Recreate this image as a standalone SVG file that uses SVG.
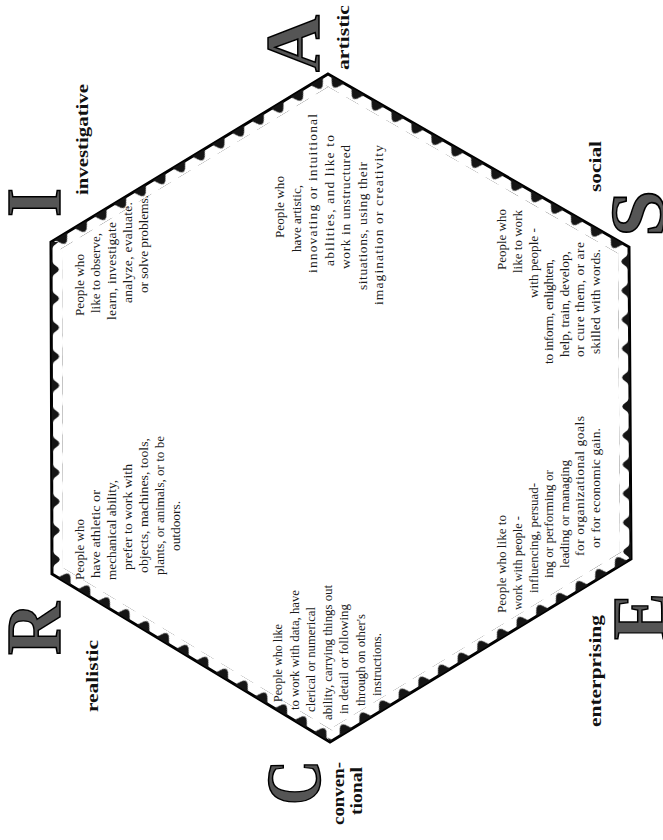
<svg xmlns="http://www.w3.org/2000/svg" width="663" height="840" viewBox="0 0 663 840">
<style>
.body{font-family:"Liberation Serif",serif;font-size:13.5px;fill:#1a1a1a}
.lbl{font-family:"Liberation Serif",serif;font-weight:bold;font-size:17px;fill:#111}
.big{font-family:"Liberation Serif",serif;font-weight:bold;font-size:78px;fill:#555;stroke:#000;stroke-width:1.5;text-anchor:middle}
.edge{stroke:#000;stroke-width:3;fill:none;stroke-linejoin:miter}
</style>
<defs>
<pattern id="tooth" width="23" height="11" patternUnits="userSpaceOnUse">
<path d="M4,0 L8.5,7 Q11.5,10.5 14.5,7 L19,0 Z" fill="#151515"/>
</pattern>
<pattern id="wave" width="29" height="11" patternUnits="userSpaceOnUse">
<path d="M1,0 Q8,0 11,5 Q14.5,10.5 18,5 Q21,0 28,0 Z" fill="#151515"/>
</pattern>
</defs>
<rect width="663" height="840" fill="#fff"/>

<g id="hexagon">
<polygon class="edge" points="328,74 629,247 631,559 330,742 52,574 51,242"/>
<g transform="translate(328,74) rotate(29.89)"><rect x="0" y="0" width="347" height="11" fill="url(#tooth)"/></g>
<g transform="translate(629,247) rotate(89.63)"><rect x="0" y="0" width="312" height="11" fill="url(#wave)"/></g>
<g transform="translate(631,559) rotate(148.7)"><rect x="0" y="0" width="352" height="11" fill="url(#tooth)"/></g>
<g transform="translate(330,742) rotate(211.15)"><rect x="0" y="0" width="325" height="11" fill="url(#tooth)"/></g>
<g transform="translate(52,574) rotate(269.83)"><rect x="0" y="0" width="332" height="11" fill="url(#wave)"/></g>
<g transform="translate(51,242) rotate(-31.23)"><rect x="0" y="0" width="324" height="11" fill="url(#tooth)"/></g>
</g>

<g id="node-I">
<text class="big" transform="translate(60,202.5) rotate(-90)" textLength="29" lengthAdjust="spacingAndGlyphs">I</text>
<text class="lbl" transform="translate(88,195) rotate(-90)" textLength="111" lengthAdjust="spacingAndGlyphs">investigative</text>
<text class="body" transform="translate(84,316) rotate(-90)" textLength="62" lengthAdjust="spacingAndGlyphs">People who</text>
<text class="body" transform="translate(100,313) rotate(-90)" textLength="80" lengthAdjust="spacingAndGlyphs">like to observe,</text>
<text class="body" transform="translate(116,320) rotate(-90)" textLength="98" lengthAdjust="spacing">learn, investigate</text>
<text class="body" transform="translate(132,303) rotate(-90)" textLength="101" lengthAdjust="spacing">analyze, evaluate.</text>
<text class="body" transform="translate(148,293) rotate(-90)" textLength="98" lengthAdjust="spacing">or solve problems.</text>
</g>

<g id="node-A">
<text class="big" transform="translate(319,43.5) rotate(-90)" textLength="57" lengthAdjust="spacingAndGlyphs">A</text>
<text class="lbl" transform="translate(349,70) rotate(-90)" textLength="65" lengthAdjust="spacingAndGlyphs">artistic</text>
<text class="body" transform="translate(284,238) rotate(-90)" textLength="62" lengthAdjust="spacingAndGlyphs">People who</text>
<text class="body" transform="translate(300.5,252) rotate(-90)" textLength="67" lengthAdjust="spacingAndGlyphs">have artistic,</text>
<text class="body" transform="translate(317,273) rotate(-90)" textLength="159" lengthAdjust="spacing">innovating or intuitional</text>
<text class="body" transform="translate(333.5,266) rotate(-90)" textLength="131" lengthAdjust="spacing">abilities, and like to</text>
<text class="body" transform="translate(350,269) rotate(-90)" textLength="124" lengthAdjust="spacing">work in unstructured</text>
<text class="body" transform="translate(366.5,290) rotate(-90)" textLength="128" lengthAdjust="spacing">situations, using their</text>
<text class="body" transform="translate(383,305) rotate(-90)" textLength="160" lengthAdjust="spacing">imagination or creativity</text>
</g>

<g id="node-S">
<text class="big" transform="translate(664,213.5) rotate(-90)" textLength="47" lengthAdjust="spacingAndGlyphs">S</text>
<text class="lbl" transform="translate(601,192) rotate(-90)" textLength="51" lengthAdjust="spacingAndGlyphs">social</text>
<text class="body" transform="translate(506,270) rotate(-90)" textLength="61" lengthAdjust="spacingAndGlyphs">People who</text>
<text class="body" transform="translate(522,273) rotate(-90)" textLength="63" lengthAdjust="spacingAndGlyphs">like to work</text>
<text class="body" transform="translate(537.5,298) rotate(-90)" textLength="70" lengthAdjust="spacingAndGlyphs">with people -</text>
<text class="body" transform="translate(553,364) rotate(-90)" textLength="105" lengthAdjust="spacing">to inform, enlighten,</text>
<text class="body" transform="translate(568.5,357) rotate(-90)" textLength="106" lengthAdjust="spacing">help, train, develop,</text>
<text class="body" transform="translate(584,357) rotate(-90)" textLength="115" lengthAdjust="spacing">or cure them, or are</text>
<text class="body" transform="translate(599.5,354) rotate(-90)" textLength="105" lengthAdjust="spacing">skilled with words.</text>
</g>

<g id="node-R">
<text class="big" transform="translate(60,628.5) rotate(-90)" textLength="53" lengthAdjust="spacingAndGlyphs">R</text>
<text class="lbl" transform="translate(98,712) rotate(-90)" textLength="72" lengthAdjust="spacingAndGlyphs">realistic</text>
<text class="body" transform="translate(84,580) rotate(-90)" textLength="61" lengthAdjust="spacingAndGlyphs">People who</text>
<text class="body" transform="translate(100,578) rotate(-90)" textLength="88" lengthAdjust="spacingAndGlyphs">have athletic or</text>
<text class="body" transform="translate(116,580) rotate(-90)" textLength="100" lengthAdjust="spacingAndGlyphs">mechanical ability,</text>
<text class="body" transform="translate(132,570) rotate(-90)" textLength="106" lengthAdjust="spacingAndGlyphs">prefer to work with</text>
<text class="body" transform="translate(148,573) rotate(-90)" textLength="135" lengthAdjust="spacingAndGlyphs">objects, machines, tools,</text>
<text class="body" transform="translate(164,575) rotate(-90)" textLength="139" lengthAdjust="spacingAndGlyphs">plants, or animals, or to be</text>
<text class="body" transform="translate(180,551) rotate(-90)" textLength="50" lengthAdjust="spacingAndGlyphs">outdoors.</text>
</g>

<g id="node-C">
<text class="big" transform="translate(320,782.5) rotate(-90)" textLength="45" lengthAdjust="spacingAndGlyphs">C</text>
<text class="lbl" transform="translate(344,825) rotate(-90)" textLength="63" lengthAdjust="spacingAndGlyphs">conven-</text>
<text class="lbl" transform="translate(362,815) rotate(-90)" textLength="48" lengthAdjust="spacingAndGlyphs">tional</text>
<text class="body" transform="translate(282,702) rotate(-90)" textLength="78" lengthAdjust="spacingAndGlyphs">People who like</text>
<text class="body" transform="translate(298.5,710) rotate(-90)" textLength="120" lengthAdjust="spacingAndGlyphs">to work with data, have</text>
<text class="body" transform="translate(315,712) rotate(-90)" textLength="105" lengthAdjust="spacingAndGlyphs">clerical or numerical</text>
<text class="body" transform="translate(331.5,720) rotate(-90)" textLength="135" lengthAdjust="spacingAndGlyphs">ability, carrying things out</text>
<text class="body" transform="translate(348,714) rotate(-90)" textLength="110" lengthAdjust="spacingAndGlyphs">in detail or following</text>
<text class="body" transform="translate(364.5,706) rotate(-90)" textLength="92" lengthAdjust="spacingAndGlyphs">through on other's</text>
<text class="body" transform="translate(381,696) rotate(-90)" textLength="63" lengthAdjust="spacingAndGlyphs">instructions.</text>
</g>

<g id="node-E">
<text class="big" transform="translate(666,616.5) rotate(-90)" textLength="47" lengthAdjust="spacingAndGlyphs">E</text>
<text class="lbl" transform="translate(601,727) rotate(-90)" textLength="112" lengthAdjust="spacingAndGlyphs">enterprising</text>
<text class="body" transform="translate(506,613) rotate(-90)" textLength="98" lengthAdjust="spacingAndGlyphs">People who like to</text>
<text class="body" transform="translate(522,610) rotate(-90)" textLength="94" lengthAdjust="spacingAndGlyphs">work with people -</text>
<text class="body" transform="translate(537.5,593) rotate(-90)" textLength="110" lengthAdjust="spacingAndGlyphs">influencing, persuad-</text>
<text class="body" transform="translate(553,578) rotate(-90)" textLength="108" lengthAdjust="spacingAndGlyphs">ing or performing or</text>
<text class="body" transform="translate(568.5,568) rotate(-90)" textLength="108" lengthAdjust="spacingAndGlyphs">leading or managing</text>
<text class="body" transform="translate(584,556) rotate(-90)" textLength="140" lengthAdjust="spacing">for organizational goals</text>
<text class="body" transform="translate(599.5,548) rotate(-90)" textLength="120" lengthAdjust="spacing">or for economic gain.</text>
</g>
</svg>
